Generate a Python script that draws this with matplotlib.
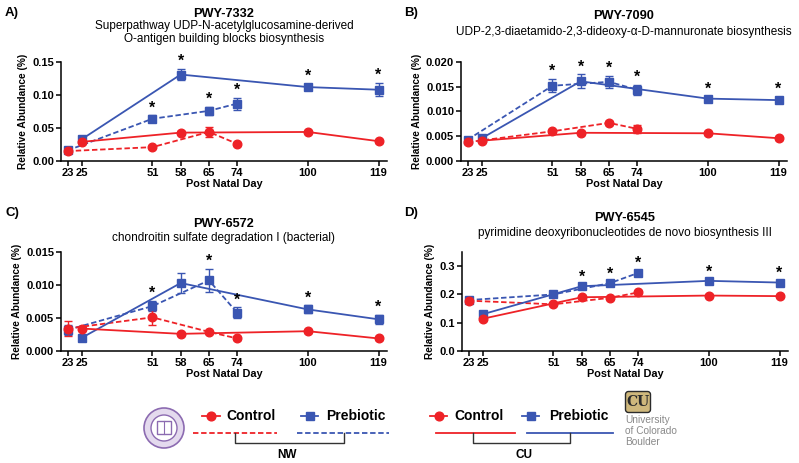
import numpy as np
import matplotlib
matplotlib.use('Agg')
import matplotlib.pyplot as plt
from matplotlib.patches import Circle, Rectangle, FancyBboxPatch

plt.rcParams['font.family'] = ['Liberation Sans', 'DejaVu Sans']

RED = '#EE2227'
BLUE = '#3A56B2'
W, H = 799, 463

# sampling days and their (uneven) slots on the x axis of the original figure
tick_days = [23, 25, 51, 58, 65, 74, 100, 119]
tick_slots = [0, 1, 6, 8, 10, 12, 17, 22]

nw_days = [23, 51, 65, 74]
cu_days = [25, 58, 100, 119]

# Panel A - PWY-7332
a_nw_ctrl = [0.015, 0.021, 0.044, 0.026]
a_nw_ctrl_err = [0.002, 0.002, 0.007, 0.002]
a_nw_pre = [0.016, 0.064, 0.076, 0.087]
a_nw_pre_err = [0.002, 0.005, 0.006, 0.009]
a_cu_ctrl = [0.029, 0.043, 0.044, 0.030]
a_cu_ctrl_err = [0.002, 0.002, 0.002, 0.002]
a_cu_pre = [0.033, 0.131, 0.112, 0.108]
a_cu_pre_err = [0.004, 0.008, 0.005, 0.010]
a_stars = [51, 58, 65, 74, 100, 119]

# Panel B - PWY-7090
b_nw_ctrl = [0.0038, 0.0060, 0.0077, 0.0065]
b_nw_ctrl_err = [0.0003, 0.0003, 0.0004, 0.0008]
b_nw_pre = [0.0043, 0.0152, 0.0160, 0.0144]
b_nw_pre_err = [0.0003, 0.0013, 0.0012, 0.0010]
b_cu_ctrl = [0.0041, 0.0057, 0.0056, 0.0046]
b_cu_ctrl_err = [0.0003, 0.0003, 0.0003, 0.0003]
b_cu_pre = [0.0046, 0.0161, 0.0126, 0.0123]
b_cu_pre_err = [0.0004, 0.0014, 0.0004, 0.0006]
b_stars = [51, 58, 65, 74, 100, 119]

# Panel C - PWY-6572
c_nw_ctrl = [0.0034, 0.0051, 0.0029, 0.0019]
c_nw_ctrl_err = [0.0012, 0.0011, 0.0002, 0.0002]
c_nw_pre = [0.0032, 0.0068, 0.0107, 0.0058]
c_nw_pre_err = [0.0008, 0.0008, 0.0018, 0.0008]
c_cu_ctrl = [0.0034, 0.0026, 0.0030, 0.0019]
c_cu_ctrl_err = [0.0002, 0.0002, 0.0002, 0.0002]
c_cu_pre = [0.0020, 0.0103, 0.0063, 0.0048]
c_cu_pre_err = [0.0003, 0.0015, 0.0006, 0.0007]
c_stars = [51, 65, 74, 100, 119]

# Panel D - PWY-6545
d_nw_ctrl = [0.178, 0.165, 0.188, 0.207]
d_nw_ctrl_err = [0.005, 0.004, 0.004, 0.005]
d_nw_pre = [0.180, 0.200, 0.240, 0.276]
d_nw_pre_err = [0.005, 0.005, 0.006, 0.008]
d_cu_ctrl = [0.114, 0.190, 0.196, 0.194]
d_cu_ctrl_err = [0.004, 0.004, 0.004, 0.004]
d_cu_pre = [0.130, 0.229, 0.248, 0.242]
d_cu_pre_err = [0.004, 0.005, 0.005, 0.005]
d_stars = [58, 65, 74, 100, 119]

panels = [
    dict(tag='A)', name='PWY-7332',
         sub='Superpathway UDP-N-acetylglucosamine-derived\nO-antigen building blocks biosynthesis',
         nw=(a_nw_ctrl, a_nw_ctrl_err, a_nw_pre, a_nw_pre_err),
         cu=(a_cu_ctrl, a_cu_ctrl_err, a_cu_pre, a_cu_pre_err),
         stars=a_stars, ymax=0.15, yticks=[0, 0.05, 0.10, 0.15], fmt='{:.2f}',
         box=(61, 387, 62, 161), tagxy=(5, 13), titley=14, subty=20.5),
    dict(tag='B)', name='PWY-7090',
         sub='UDP-2,3-diaetamido-2,3-dideoxy-\u03b1-D-mannuronate biosynthesis',
         nw=(b_nw_ctrl, b_nw_ctrl_err, b_nw_pre, b_nw_pre_err),
         cu=(b_cu_ctrl, b_cu_ctrl_err, b_cu_pre, b_cu_pre_err),
         stars=b_stars, ymax=0.020, yticks=[0, 0.005, 0.010, 0.015, 0.020], fmt='{:.3f}',
         box=(461, 787, 62, 161), tagxy=(404, 13), titley=16, subty=25.5),
    dict(tag='C)', name='PWY-6572',
         sub='chondroitin sulfate degradation I (bacterial)',
         nw=(c_nw_ctrl, c_nw_ctrl_err, c_nw_pre, c_nw_pre_err),
         cu=(c_cu_ctrl, c_cu_ctrl_err, c_cu_pre, c_cu_pre_err),
         stars=c_stars, ymax=0.015, yticks=[0, 0.005, 0.010, 0.015], fmt='{:.3f}',
         box=(61, 387, 252, 351), tagxy=(5, 213), titley=224, subty=231.5),
    dict(tag='D)', name='PWY-6545',
         sub='pyrimidine deoxyribonucleotides de novo biosynthesis III',
         nw=(d_nw_ctrl, d_nw_ctrl_err, d_nw_pre, d_nw_pre_err),
         cu=(d_cu_ctrl, d_cu_ctrl_err, d_cu_pre, d_cu_pre_err),
         stars=d_stars, ymax=0.35, yticks=[0, 0.1, 0.2, 0.3], fmt='{:.1f}',
         box=(462, 788, 252, 351), tagxy=(404, 213), titley=218, subty=226.5),
]

# piecewise-linear day -> slot scale (extended at both ends)
day_ext = [0] + tick_days + [219]
slot_ext = [-11.5] + tick_slots + [22 + 100 * 5 / 19]


def fwd(d):
    return np.interp(d, day_ext, slot_ext)


def inv(s):
    return np.interp(s, slot_ext, day_ext)


fig = plt.figure(figsize=(W / 100, H / 100), dpi=100)

# legend / logo layer in pixel coordinates
lg = fig.add_axes([0, 0, 1, 1], zorder=-1)
lg.set_xlim(0, W)
lg.set_ylim(H, 0)
lg.axis('off')

for p in panels:
    l, r, t, b = p['box']
    ax = fig.add_axes([l / W, 1 - b / H, (r - l) / W, (b - t) / H])
    ax.set_xscale('function', functions=(fwd, inv))

    nc, nce, npre, npe = p['nw']
    cc, cce, cpre, cpe = p['cu']
    series = [
        (nw_days, npre, npe, BLUE, 's', (0, (3, 1.5))),
        (nw_days, nc, nce, RED, 'o', (0, (3, 1.5))),
        (cu_days, cpre, cpe, BLUE, 's', '-'),
        (cu_days, cc, cce, RED, 'o', '-'),
    ]
    for days, m, e, col, mk, ls in series:
        ax.errorbar(days, m, yerr=e, color=col, ecolor=col, marker=mk,
                    ms=6.3 if mk == 's' else 6.2, ls=ls, lw=1.3,
                    elinewidth=1.0, capsize=2.8, capthick=1.0, clip_on=False)

    # significance stars above the prebiotic error bars
    tops = {}
    for days, m, e in [(nw_days, npre, npe), (cu_days, cpre, cpe)]:
        for d, v, s in zip(days, m, e):
            tops[d] = v + s
    for d in p['stars']:
        ax.annotate('*', (d, tops[d]), xytext=(0, 2.2), textcoords='offset points',
                    ha='center', va='baseline', fontsize=11.5, fontweight='bold',
                    annotation_clip=False)

    ax.set_xlim(inv(-0.47), inv(22.6))
    ax.set_ylim(0, p['ymax'])
    ax.set_xticks(tick_days)
    ax.set_xticks([], minor=True)
    ax.set_xticklabels([str(d) for d in tick_days])
    ax.set_yticks(p['yticks'])
    ax.set_yticklabels([p['fmt'].format(v) for v in p['yticks']])
    for s in ['top', 'right']:
        ax.spines[s].set_visible(False)
    for s in ['left', 'bottom']:
        ax.spines[s].set_linewidth(1.1)
    ax.tick_params(direction='out', length=3.5, width=1.1, pad=1.5,
                   labelsize=8)
    for lab in ax.get_xticklabels() + ax.get_yticklabels():
        lab.set_fontweight('bold')
    ax.set_xlabel('Post Natal Day', fontsize=7.8, fontweight='bold', labelpad=1)
    ax.set_ylabel('Relative Abundance (%)', fontsize=7.3, fontweight='bold', labelpad=3)

    cx = (l + r) / 2
    fig.text(p['tagxy'][0] / W, 1 - p['tagxy'][1] / H, p['tag'], fontsize=9.5,
             fontweight='bold', va='center', ha='left')
    fig.text(cx / W, 1 - p['titley'] / H, p['name'], fontsize=9.2,
             fontweight='bold', ha='center', va='center')
    fig.text(cx / W, 1 - p['subty'] / H, p['sub'], fontsize=8.5,
             ha='center', va='top', linespacing=1.05)

# ---- bottom legend ----
NWP = '#8C6BB1'
lg.add_patch(Circle((164, 428), 20, facecolor='#E4DAEE', edgecolor=NWP, lw=1.2))
lg.add_patch(Circle((164, 428), 13, facecolor='white', edgecolor=NWP, lw=1.0))
lg.add_patch(Rectangle((157, 421), 14, 13, facecolor='none', edgecolor=NWP, lw=1.0))
lg.plot([164, 164], [421, 434], color=NWP, lw=0.8)

for x0, x1, col, mk, lab, tx in [(202, 220, RED, 'o', 'Control', 226),
                                 (301, 318, BLUE, 's', 'Prebiotic', 326),
                                 (430, 447, RED, 'o', 'Control', 454),
                                 (522, 539, BLUE, 's', 'Prebiotic', 549)]:
    lg.plot([x0, x1], [416, 416], color=col, lw=1.3)
    lg.plot([(x0 + x1) / 2], [416], color=col, marker=mk, ms=6.3)
    lg.text(tx, 416, lab, fontsize=10, fontweight='bold', va='center', ha='left')

lg.plot([193, 277], [433, 433], color=RED, lw=1.3, ls=(0, (3, 1.5)))
lg.plot([297, 389], [433, 433], color=BLUE, lw=1.3, ls=(0, (3, 1.5)))
lg.plot([436, 515], [433, 433], color=RED, lw=1.3)
lg.plot([527, 613], [433, 433], color=BLUE, lw=1.3)

for a, bx, name, nx in [(235, 344, 'NW', 287), (473, 570, 'CU', 524)]:
    lg.plot([a, a, bx, bx], [433, 443, 443, 433], color='#333333', lw=1.0)
    lg.text(nx, 455, name, fontsize=8.5, fontweight='bold', ha='center', va='center')

# CU emblem and wordmark
lg.add_patch(FancyBboxPatch((626, 392), 24, 20, boxstyle='round,pad=0.5,rounding_size=3',
                            facecolor='#CFB87C', edgecolor='#2b2b2b', lw=1.0))
lg.text(638, 402.5, 'CU', fontsize=10, fontweight='bold', color='#2b2b2b',
        ha='center', va='center', family='DejaVu Serif')
lg.text(625, 415, 'University\nof Colorado\nBoulder', fontsize=7.3, color='#8a8a8a',
        ha='left', va='top', linespacing=1.15)

fig.savefig('out.png', dpi=100)
